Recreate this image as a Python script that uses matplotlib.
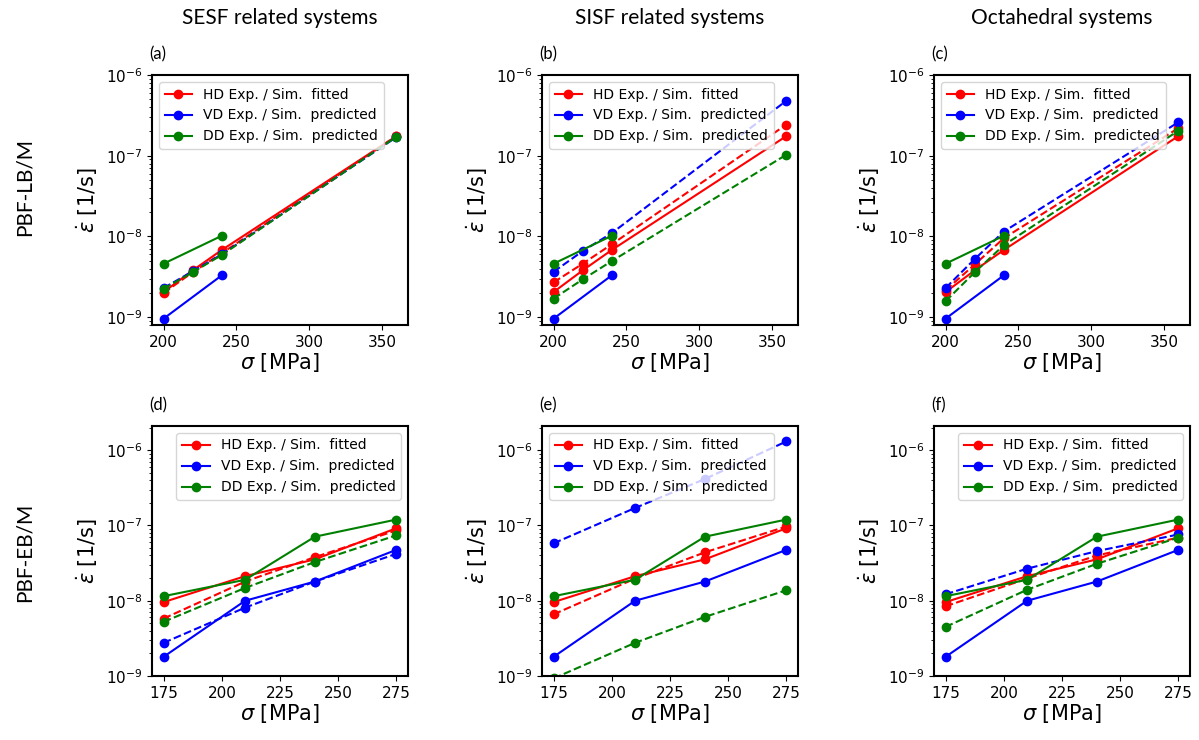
import matplotlib
matplotlib.use("Agg")
import matplotlib.pyplot as plt

# stress levels [MPa]
sig_top = [200, 220, 240, 360]
sig_top_short = [200, 240]
sig_bot = [175, 210, 240, 275]

# experimental creep rates (same in every panel of a row)
hd_exp_top = [2.05e-9, 3.8e-9, 6.8e-9, 1.75e-7]
vd_exp_top = [9.6e-10, 3.3e-9]
dd_exp_top = [4.6e-9, 1.02e-8]

hd_exp_bot = [9.6e-9, 2.12e-8, 3.55e-8, 9.2e-8]
vd_exp_bot = [1.8e-9, 1.0e-8, 1.8e-8, 4.75e-8]
dd_exp_bot = [1.15e-8, 1.9e-8, 7.1e-8, 1.2e-7]

# simulated creep rates, one list per panel
hd_sim_a = [2.0e-9, 3.6e-9, 6.2e-9, 1.75e-7]
vd_sim_a = [2.3e-9, 3.7e-9, 6.0e-9, 1.7e-7]
dd_sim_a = [2.25e-9, 3.6e-9, 5.9e-9, 1.72e-7]

hd_sim_b = [2.7e-9, 4.6e-9, 8.0e-9, 2.43e-7]
vd_sim_b = [3.65e-9, 6.6e-9, 1.1e-8, 4.8e-7]
dd_sim_b = [1.7e-9, 2.94e-9, 4.96e-9, 1.03e-7]

hd_sim_c = [2.16e-9, 4.5e-9, 9.5e-9, 2.2e-7]
vd_sim_c = [2.3e-9, 5.25e-9, 1.15e-8, 2.6e-7]
dd_sim_c = [1.58e-9, 3.6e-9, 7.8e-9, 2.04e-7]

hd_sim_d = [5.8e-9, 1.8e-8, 3.8e-8, 8.6e-8]
vd_sim_d = [2.76e-9, 8.1e-9, 1.8e-8, 4.2e-8]
dd_sim_d = [5.25e-9, 1.48e-8, 3.27e-8, 7.4e-8]

hd_sim_e = [6.6e-9, 1.97e-8, 4.4e-8, 9.7e-8]
vd_sim_e = [5.8e-8, 1.71e-7, 4.15e-7, 1.31e-6]
dd_sim_e = [9.3e-10, 2.76e-9, 6.1e-9, 1.38e-8]

hd_sim_f = [8.45e-9, 1.97e-8, 4.0e-8, 6.9e-8]
vd_sim_f = [1.22e-8, 2.67e-8, 4.57e-8, 7.6e-8]
dd_sim_f = [4.5e-9, 1.4e-8, 3.1e-8, 6.9e-8]

col_titles = ["SESF related systems", "SISF related systems", "Octahedral systems"]
row_titles = ["PBF-LB/M", "PBF-EB/M"]
panel_tags = ["(a)", "(b)", "(c)", "(d)", "(e)", "(f)"]
labels = ["HD Exp. / Sim.  fitted", "VD Exp. / Sim.  predicted", "DD Exp. / Sim.  predicted"]
colors = ["red", "blue", "green"]

txt_font = ["Lato", "DejaVu Sans"]

plt.rcParams["axes.linewidth"] = 1.5

fig = plt.figure(figsize=(11.99, 7.40), dpi=100)
W, H = 1199, 740
lefts = [152, 542, 934]
tops = [75, 426]
row_lbl_y = [187, 552]
aw, ah = 256, 250

top_sims = [(hd_sim_a, vd_sim_a, dd_sim_a), (hd_sim_b, vd_sim_b, dd_sim_b), (hd_sim_c, vd_sim_c, dd_sim_c)]
bot_sims = [(hd_sim_d, vd_sim_d, dd_sim_d), (hd_sim_e, vd_sim_e, dd_sim_e), (hd_sim_f, vd_sim_f, dd_sim_f)]
leg_locs = [["upper left"] * 3, ["upper right", "upper left", "upper right"]]

for r in range(2):
    for c in range(3):
        ax = fig.add_axes([lefts[c] / W, 1 - (tops[r] + ah) / H, aw / W, ah / H])
        if r == 0:
            exp_x = [sig_top, sig_top_short, sig_top_short]
            exp_y = [hd_exp_top, vd_exp_top, dd_exp_top]
            sim_x = sig_top
            sims = top_sims[c]
        else:
            exp_x = [sig_bot] * 3
            exp_y = [hd_exp_bot, vd_exp_bot, dd_exp_bot]
            sim_x = sig_bot
            sims = bot_sims[c]
        for k in range(3):
            ax.plot(exp_x[k], exp_y[k], "-o", color=colors[k], lw=1.5, ms=6, label=labels[k])
            ax.plot(sim_x, sims[k], "--o", color=colors[k], lw=1.5, ms=6)
        ax.set_yscale("log")
        if r == 0:
            ax.set_ylim(8e-10, 1e-6)
            ax.set_xticks([200, 250, 300, 350])
        else:
            ax.set_ylim(1e-9, 2.1e-6)
            ax.set_xticks([175, 200, 225, 250, 275])
        ax.tick_params(labelsize=11)
        ax.set_xlabel(r"$\sigma$ [MPa]", fontsize=15, labelpad=1)
        ax.set_ylabel(r"$\dot{\epsilon}$ [1/s]", fontsize=15)
        ax.legend(loc=leg_locs[r][c], fontsize=10)
        ax.annotate(panel_tags[r * 3 + c], xy=(0, 1), xycoords="axes fraction",
                    xytext=(-2, 9), textcoords="offset points",
                    fontsize=12, family=txt_font, ha="left", va="bottom")
        if r == 0:
            fig.text((lefts[c] + aw / 2) / W, 1 - 18 / H, col_titles[c],
                     fontsize=15, family=txt_font, ha="center", va="center")
    fig.text(25 / W, 1 - row_lbl_y[r] / H, row_titles[r], rotation=90,
             fontsize=15, family=txt_font, ha="center", va="center")

fig.savefig("out.png", dpi=100)
